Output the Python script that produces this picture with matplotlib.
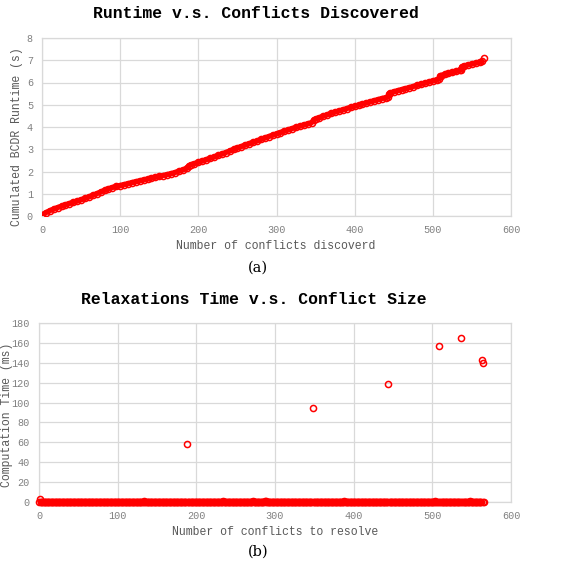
import matplotlib
matplotlib.use("Agg")
import matplotlib.pyplot as plt
import numpy as np

# (a) cumulated BCDR runtime
conflict_idx = [0, 5, 10, 15, 20, 25, 30, 35, 40, 45, 50, 55, 60, 65, 70, 75, 80, 85, 90, 95,
                100, 105, 110, 115, 120, 125, 130, 135, 140, 145, 150, 155, 160, 165, 170, 175,
                180, 185, 188, 190, 195, 200, 205, 210, 215, 220, 225, 230, 235, 240, 245, 250,
                255, 260, 265, 270, 275, 280, 285, 290, 295, 300, 305, 310, 315, 320, 325, 330,
                335, 340, 345, 348, 350, 355, 360, 365, 370, 375, 380, 385, 390, 395, 400, 405,
                410, 415, 420, 425, 430, 435, 440, 443, 444, 445, 450, 455, 460, 465, 470, 475,
                480, 485, 490, 495, 500, 505, 508, 509, 510, 515, 520, 525, 530, 535, 536, 537,
                540, 545, 550, 555, 560, 563, 565]
runtime_s = [0.05, 0.15, 0.24, 0.31, 0.38, 0.44, 0.50, 0.56, 0.61, 0.67, 0.73, 0.79, 0.86, 0.93,
             1.00, 1.08, 1.15, 1.22, 1.28, 1.33, 1.37, 1.41, 1.45, 1.50, 1.54, 1.58, 1.62, 1.66,
             1.70, 1.74, 1.78, 1.82, 1.86, 1.90, 1.95, 2.01, 2.07, 2.14, 2.26, 2.30, 2.35, 2.41,
             2.47, 2.53, 2.59, 2.65, 2.72, 2.78, 2.85, 2.92, 2.99, 3.06, 3.12, 3.19, 3.25, 3.31,
             3.37, 3.44, 3.50, 3.57, 3.63, 3.69, 3.75, 3.81, 3.87, 3.93, 3.98, 4.04, 4.09, 4.14,
             4.20, 4.33, 4.36, 4.42, 4.49, 4.55, 4.61, 4.67, 4.72, 4.77, 4.83, 4.88, 4.93, 4.98,
             5.03, 5.08, 5.13, 5.18, 5.23, 5.28, 5.32, 5.35, 5.50, 5.52, 5.58, 5.63, 5.68, 5.72,
             5.77, 5.82, 5.87, 5.92, 5.97, 6.02, 6.07, 6.12, 6.16, 6.29, 6.31, 6.36, 6.41, 6.45,
             6.50, 6.55, 6.56, 6.70, 6.74, 6.79, 6.83, 6.87, 6.92, 6.95, 7.10]

# (b) relaxation time per conflict: nearly all ~0 ms, a few outliers
n_conflicts = 567
outlier_idx = [1, 133, 188, 234, 272, 287, 288, 348, 388, 444, 504, 509, 537, 548, 563, 565]
outlier_ms = [3, 1, 58, 1, 1, 1, 1, 95, 1, 119, 1, 157, 165, 1, 143, 140]

RED = "#ff0000"
GRID = "#d9d9d9"
TICK = "#808080"
LABEL = "#595959"
MONO = "Liberation Mono"

W, H = 562, 563
fig = plt.figure(figsize=(W / 100, H / 100), dpi=100)


def px_axes(left, top, right, bottom):
    return fig.add_axes([left / W, 1 - bottom / H, (right - left) / W, (bottom - top) / H])


def style_axes(ax, xmax, ymax, ystep):
    ax.set_xlim(0, xmax)
    ax.set_ylim(0, ymax)
    ax.set_xticks(np.arange(0, xmax + 1, 100))
    ax.set_yticks(np.arange(0, ymax + 1, ystep))
    ax.grid(True, color=GRID, linewidth=0.9)
    ax.set_axisbelow(True)
    for s in ax.spines.values():
        s.set_color(GRID)
        s.set_linewidth(0.9)
    ax.tick_params(length=0, pad=6.5, labelsize=7.3, labelcolor=TICK)
    for lbl in ax.get_xticklabels() + ax.get_yticklabels():
        lbl.set_fontfamily(MONO)


def ftext(x, y, s, **kw):
    fig.text(x / W, 1 - y / H, s, ha="center", va="center", **kw)


# ---- (a)
ax1 = px_axes(42, 38, 511, 216)
style_axes(ax1, 600, 8, 1)
ax1.plot(conflict_idx[:-1], runtime_s[:-1], color=RED, lw=3.8, solid_capstyle="round", zorder=3)
ax1.plot(conflict_idx, runtime_s, ls="none", marker="o", ms=4.4, mfc="none", mec=RED,
         mew=1.1, zorder=4)

ftext(256, 14, "Runtime v.s. Conflicts Discovered", family=MONO, weight="bold", size=11.8)
ftext(276, 246, "Number of conflicts discoverd", family=MONO, size=8.3, color=LABEL)
ftext(17, 137, "Cumulated BCDR Runtime (s)", family=MONO, size=8.3, color=LABEL, rotation=90)
ftext(258, 268, "(a)", family="DejaVu Serif", size=10.5)

# ---- (b)
x_b = np.arange(n_conflicts)
y_b = np.zeros(n_conflicts)
y_b[outlier_idx] = outlier_ms

ax2 = px_axes(39, 323, 511, 502)
style_axes(ax2, 600, 180, 20)
ax2.plot(x_b, y_b, ls="none", marker="o", ms=4.4, mfc="none", mec=RED, mew=1.1,
         zorder=4, clip_on=False)

ftext(254, 299, "Relaxations Time v.s. Conflict Size", family=MONO, weight="bold", size=11.8)
ftext(275, 532, "Number of conflicts to resolve", family=MONO, size=8.3, color=LABEL)
ftext(7, 415, "Computation Time (ms)", family=MONO, size=8.3, color=LABEL, rotation=90)
ftext(258, 552, "(b)", family="DejaVu Serif", size=10.5)

fig.savefig("out.png", dpi=100)
